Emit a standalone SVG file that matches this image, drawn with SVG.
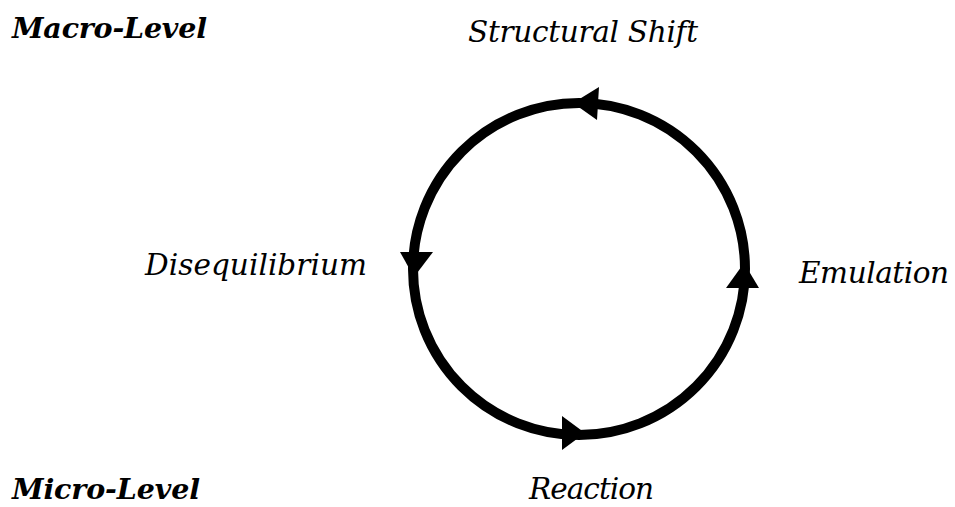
<svg xmlns="http://www.w3.org/2000/svg" width="955" height="507" viewBox="0 0 955 507">
<style>
.lvl{font-family:'DejaVu Serif','Liberation Serif',serif;font-style:italic;font-weight:bold;font-size:28.5px;fill:#000}
.lbl{font-family:'DejaVu Serif','Liberation Serif',serif;font-style:italic;font-size:29.5px;fill:#000}
.ring{fill:none;stroke:#000;stroke-width:10}
.head{fill:#000}
</style>
<rect width="955" height="507" fill="#fff"/>
<g id="connectors">
<circle class="ring" cx="579" cy="269" r="166"/>
<polygon class="head" points="573,103 599,87 597,120"/>
<polygon class="head" points="414,277 400,252 433,252"/>
<polygon class="head" points="585,433 562,416 562,450"/>
<polygon class="head" points="744,263 726,288 759,288"/>
</g>
<g id="macro"><text class="lvl" x="12" y="38" textLength="195">Macro-Level</text></g>
<g id="micro"><text class="lvl" x="12" y="499" textLength="188">Micro-Level</text></g>
<g id="structural-shift"><text class="lbl" x="468" y="42" textLength="230">Structural Shift</text></g>
<g id="disequilibrium"><text class="lbl" x="145" y="275" textLength="222">Disequilibrium</text></g>
<g id="emulation"><text class="lbl" x="799" y="283" textLength="150">Emulation</text></g>
<g id="reaction"><text class="lbl" x="529" y="499" textLength="125">Reaction</text></g>
</svg>
